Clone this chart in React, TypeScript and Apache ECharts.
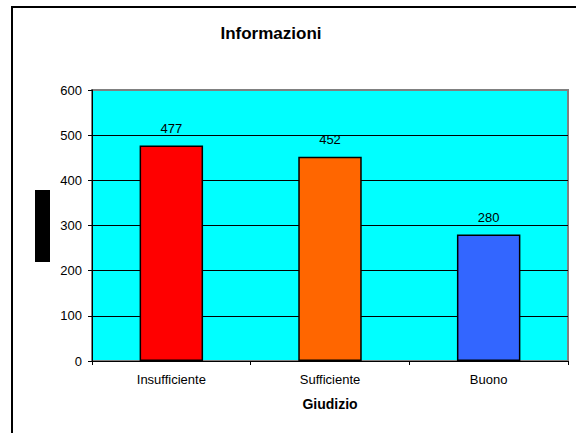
import React, { useEffect, useRef } from "react";
import * as echarts from "echarts";

const categories = ["Insufficiente", "Sufficiente", "Buono"];
const values = [477, 452, 280];
const barColors = ["#FF0000", "#FF6600", "#3366FF"];
const yTicks = [0, 100, 200, 300, 400, 500, 600];

export default function App() {
  const ref = useRef<HTMLDivElement>(null);

  useEffect(() => {
    if (!ref.current) return;
    const chart = echarts.init(ref.current, null, { renderer: "svg" });
    const font = "Arial, 'Liberation Sans', sans-serif";
    chart.setOption({
      animation: false,
      backgroundColor: "#ffffff",
      textStyle: { fontFamily: font },
      grid: {
        left: 92,
        right: 8,
        top: 90,
        bottom: 72,
        show: true,
        backgroundColor: "#00FFFF",
        borderColor: "#808080",
        borderWidth: 2,
      },
      graphic: [
        {
          type: "rect",
          shape: { x: 12, y: 7, width: 640, height: 520 },
          style: { fill: "none", stroke: "#000", lineWidth: 2 },
          silent: true,
        },
        {
          type: "rect",
          shape: { x: 35, y: 190, width: 15, height: 72 },
          style: { fill: "#000" },
          silent: true,
        },
        {
          type: "text",
          x: 271,
          y: 33,
          style: {
            text: "Informazioni",
            fontFamily: font,
            fontSize: 17,
            fontWeight: "bold",
            fill: "#000",
            align: "center",
            verticalAlign: "middle",
          },
        },
      ],
      xAxis: {
        type: "category",
        data: categories,
        name: "Giudizio",
        nameLocation: "middle",
        nameGap: 36,
        nameTextStyle: { fontSize: 14, fontWeight: "bold", color: "#000", fontFamily: font },
        axisLine: { show: true, lineStyle: { color: "#000", width: 1 } },
        axisTick: { show: true, length: 4, lineStyle: { color: "#000" } },
        axisLabel: { fontSize: 13, color: "#000", margin: 12, fontFamily: font },
        z: 10,
      },
      yAxis: {
        type: "value",
        min: yTicks[0],
        max: yTicks[yTicks.length - 1],
        interval: 100,
        axisLine: { show: true, lineStyle: { color: "#000", width: 1 } },
        axisTick: { show: true, length: 4, lineStyle: { color: "#000" } },
        axisLabel: { fontSize: 13, color: "#000", margin: 10, fontFamily: font },
        splitLine: {
          show: true,
          lineStyle: {
            color: ["#000", "#000", "#000", "#000", "#000", "#000", "#808080"],
            width: 1,
          },
        },
      },
      series: [
        {
          type: "bar",
          data: values.map((v, i) => ({ value: v, itemStyle: { color: barColors[i] } })),
          barWidth: "40%",
          itemStyle: { borderColor: "#000", borderWidth: 1.5 },
          label: {
            show: true,
            position: "top",
            distance: 11,
            fontSize: 13,
            color: "#000",
            fontFamily: font,
          },
        },
      ],
    });
    return () => chart.dispose();
  }, []);

  return (
    <div
      ref={ref}
      style={{ position: "fixed", left: 0, top: 0, width: 576, height: 433 }}
    />
  );
}
